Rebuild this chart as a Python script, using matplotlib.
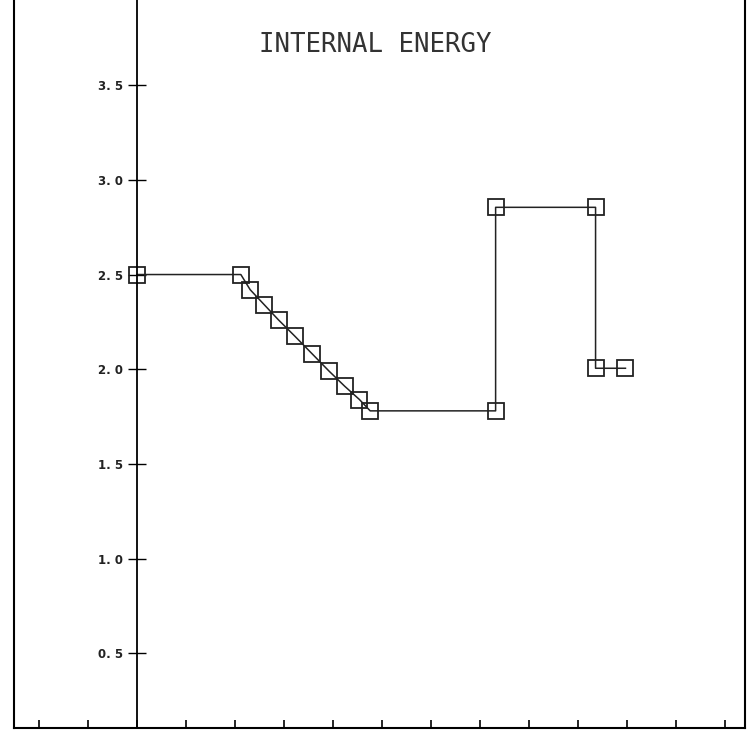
import matplotlib
matplotlib.use("Agg")
import matplotlib.pyplot as plt

# internal energy track, x in tick units (y-axis sits at x = 0)
x_vals = [0, 2.12, 2.31, 2.60, 2.89, 3.22, 3.58, 3.92, 4.24, 4.54, 4.76,
          7.32, 7.32, 9.36, 9.36, 9.97]
energy = [2.50, 2.50, 2.42, 2.34, 2.26, 2.175, 2.08, 1.99, 1.91, 1.84, 1.78,
          1.78, 2.855, 2.855, 2.005, 2.005]

y_ticks = [0.5, 1.0, 1.5, 2.0, 2.5, 3.0, 3.5]
y_tick_labels = ["0. 5", "1. 0", "1. 5", "2. 0", "2. 5", "3. 0", "3. 5"]
x_ticks = list(range(-2, 13))

fig = plt.figure(figsize=(7.55, 7.31), dpi=100)
ax = fig.add_axes([14 / 755, 3 / 731, 731 / 755, 728 / 731])

ax.plot(x_vals, energy, color="#222222", lw=1.1,
        marker="s", ms=11.5, mfc="none", mec="#222222", mew=1.3)

ax.set_xlim(-2.51, 12.41)
ax.set_ylim(0.105, 3.95)

# y-axis drawn through x = 0, outer frame on left/right/bottom
ax.spines["left"].set_position(("data", 0))
ax.spines["left"].set_linewidth(1.3)
ax.spines["top"].set_visible(False)
ax.spines["right"].set_linewidth(1.5)
ax.spines["bottom"].set_linewidth(1.5)
ax.plot([0, 0], [0, 1], transform=ax.transAxes, color="black", lw=1.5,
        clip_on=False)

ax.set_yticks(y_ticks)
ax.set_yticklabels(y_tick_labels, fontsize=8.5, fontweight="bold",
                   color="#222222")
ax.tick_params(axis="y", direction="inout", length=13, width=1.0)

ax.set_xticks(x_ticks)
ax.set_xticklabels([])
ax.tick_params(axis="x", direction="in", length=6, width=1.2)

fig.text(0.497, 0.939, "INTERNAL ENERGY", ha="center", va="center",
         fontsize=18.5, family="DejaVu Sans Mono", color="#333333")

fig.savefig("out.png", dpi=100)
